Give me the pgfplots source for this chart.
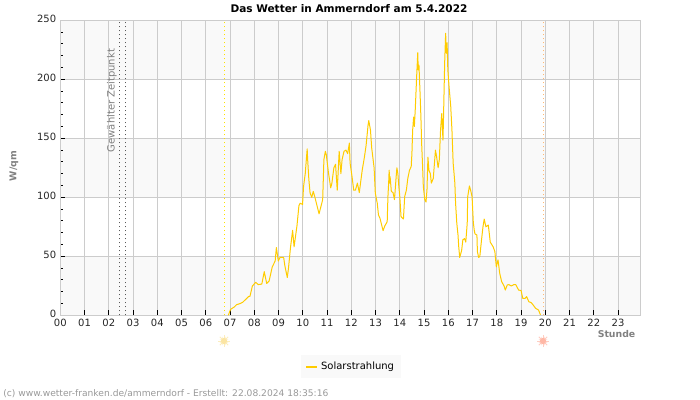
\documentclass[border=0pt]{standalone}
\usepackage{pgfplots}
\usepackage{fontspec}
\setmainfont{DejaVu Sans}
\pgfplotsset{compat=1.18}
\definecolor{solar}{HTML}{FFCC00}
\definecolor{gridgray}{HTML}{CCCCCC}
\definecolor{band}{HTML}{F9F9F9}
\definecolor{labelgray}{HTML}{808080}
\definecolor{sunup}{HTML}{FBE5A3}
\definecolor{sundown}{HTML}{FFB8A6}

\newcommand{\sunicon}[3]{%
  \foreach \a in {0,45,...,315} {
    \draw[#3!70,line width=0.6pt] (#1,#2) -- ++(\a:6);
  }
  \foreach \a in {22.5,67.5,...,337.5} {
    \draw[#3!50,line width=0.4pt] (#1,#2) -- ++(\a:4.5);
  }
  \fill[#3] (#1,#2) circle (3.2);
}

\begin{document}
\begin{tikzpicture}[x=0.75pt,y=0.75pt]
\begin{axis}[
    at={(45.225pt,63.525pt)}, anchor=south west,
    scale only axis, width=435pt, height=221.25pt,
    set layers=standard,
    xmin=0, xmax=23.917, ymin=0, ymax=250,
    xtick={0,1,...,23},
    xticklabels={00,01,02,03,04,05,06,07,08,09,10,11,12,13,14,15,16,17,18,19,20,21,22,23},
    ytick={0,50,100,150,200,250},
    minor y tick num=4,
    grid=major,
    major grid style={gridgray,line width=0.75pt},
    axis line style={gridgray,line width=0.75pt},
    tick style={black,line width=0.6pt},
    major tick length=3.75pt,
    minor tick length=2.2pt,
    tick align=inside,
    xtick pos=lower, ytick pos=left,
    ticklabel style={font=\fontsize{7.5pt}{9pt}\selectfont,text=black!85},
    /pgf/number format/assume math mode=true,
    xticklabel style={yshift=0.6pt},
    yticklabel style={xshift=0.4pt,yshift=0.8pt},
    legend style={at={(0.501,-0.1736)},anchor=center,fill=band,draw=none,
      font=\fontsize{7.5pt}{9pt}\selectfont,
      inner xsep=3pt,inner ysep=3pt},
    legend cell align=left,
]
% alternating bands behind the grid
\addplot[on layer=axis background,fill=band,draw=none,forget plot] coordinates {(0,0) (23.917,0) (23.917,50) (0,50) (0,0)};
\addplot[on layer=axis background,fill=band,draw=none,forget plot] coordinates {(0,100) (23.917,100) (23.917,150) (0,150) (0,100)};
\addplot[on layer=axis background,fill=band,draw=none,forget plot] coordinates {(0,200) (23.917,200) (23.917,250) (0,250) (0,200)};
% sunrise, sunset, selected time
\addplot[forget plot,dash pattern=on 0.75pt off 2.25pt,color=yellow!85!orange,line width=0.75pt] coordinates {(6.76,0) (6.76,250)};
\addplot[forget plot,dash pattern=on 0.75pt off 2.25pt,color=orange!55,line width=0.75pt] coordinates {(19.91,0) (19.91,250)};
\addplot[forget plot,dash pattern=on 0.75pt off 2.25pt,color=black!65,line width=0.75pt] coordinates {(2.43,0) (2.43,250)};
\addplot[forget plot,dash pattern=on 0.75pt off 2.25pt,color=black!65,line width=0.75pt] coordinates {(2.68,0) (2.68,250)};
\addplot[solar,line width=0.75pt,line join=round,
  legend image code/.code={\draw[solar,line width=1.5pt] (0cm,0cm) -- (0.3cm,0cm);}]
  table {
6.93 0
7.02 5
7.17 7
7.27 9
7.42 10
7.52 11
7.67 14
7.77 16
7.82 16
7.92 24.8
8.06 28
8.16 26
8.31 26.5
8.41 37
8.51 27
8.61 29
8.74 41
8.86 46
8.91 57.5
8.99 46
9.06 49
9.21 49
9.26 42
9.36 32
9.41 40
9.49 57
9.58 72
9.64 58
9.76 76
9.84 93
9.89 95
9.99 94
10.03 109
10.10 120
10.18 141
10.20 132
10.25 115
10.30 103.5
10.37 100
10.43 105
10.50 100
10.67 86
10.82 98
10.87 132
10.93 139
10.97 136
11.05 122
11.15 108
11.20 112
11.28 125
11.35 128
11.42 106
11.50 139
11.57 120
11.62 132
11.70 139
11.78 140
11.85 137
11.92 146
11.95 129
12.02 119
12.10 106
12.17 106
12.25 112
12.33 104
12.38 112
12.45 123
12.54 134
12.61 144
12.69 161
12.72 165
12.79 157
12.84 142
12.94 125
12.99 103.5
13.07 95
13.12 85
13.18 82.4
13.31 71.7
13.38 75.7
13.48 79.3
13.51 100.5
13.54 112
13.56 123
13.59 112
13.60 117.5
13.65 105
13.72 104
13.78 98
13.80 103.5
13.85 117.5
13.88 125
13.92 120
13.96 109
14.00 100.5
14.05 83.6
14.15 81.6
14.20 100.5
14.27 106
14.33 116
14.40 123
14.47 126
14.50 137.5
14.53 157
14.57 168
14.60 160
14.64 175.7
14.70 205
14.74 222.5
14.76 208
14.79 212
14.83 191
14.87 168
14.90 146
14.94 126
14.97 109
15.03 98
15.08 96
15.12 106
15.16 134
15.20 123
15.26 120
15.30 112
15.38 116
15.47 140
15.52 134
15.58 125
15.63 132
15.68 157
15.73 171
15.76 157
15.78 148.5
15.80 165.5
15.85 214
15.89 239
15.92 222
15.95 231
15.98 208
16.03 194
16.10 177
16.15 157
16.20 129
16.27 112
16.30 95
16.35 78
16.40 68
16.43 58
16.47 49
16.55 55
16.60 64
16.67 65
16.72 62
16.78 78
16.80 100.5
16.87 109.6
16.92 106
16.98 100.5
17.03 79
17.07 72
17.10 69
17.18 68
17.20 54
17.25 49
17.30 50
17.37 64
17.43 75
17.48 81.6
17.55 75
17.65 76.5
17.73 62
17.85 58
17.92 54
17.98 41
18.05 47
18.12 35.6
18.20 28.5
18.30 24.8
18.35 21.4
18.43 25.7
18.50 26
18.60 24.8
18.70 26
18.78 26
18.90 21.4
19.00 21
19.07 14.4
19.17 14.4
19.23 15.8
19.32 11.5
19.42 10.7
19.50 8.7
19.60 5.9
19.72 4.5
19.80 0.3
};
\addlegendentry{Solarstrahlung}
\node[rotate=90,text=labelgray,font=\fontsize{7.5pt}{9pt}\selectfont] at (axis cs:2.13,182) {Gewählter Zeitpunkt};
\end{axis}
\node[font=\bfseries\fontsize{7.9pt}{9pt}\selectfont,text=black] at (349,391) {Das Wetter in Ammerndorf am 5.4.2022};
\node[rotate=90,font=\bfseries\fontsize{7pt}{8pt}\selectfont,text=labelgray] at (14,234) {W/qm};
\node[anchor=east,font=\bfseries\fontsize{7pt}{8pt}\selectfont,text=labelgray] at (640,66) {Stunde};
\node[anchor=west,inner sep=0pt,font=\fontsize{6.85pt}{8pt}\selectfont,text=black!40] at (3,6.5) {(c) www.wetter-franken.de/ammerndorf - Erstellt: 22.08.2024 18:35:16};
\sunicon{224}{59}{sunup}
\sunicon{543}{59}{sundown}
\path (0,0) (700,400);
\end{tikzpicture}
\end{document}
